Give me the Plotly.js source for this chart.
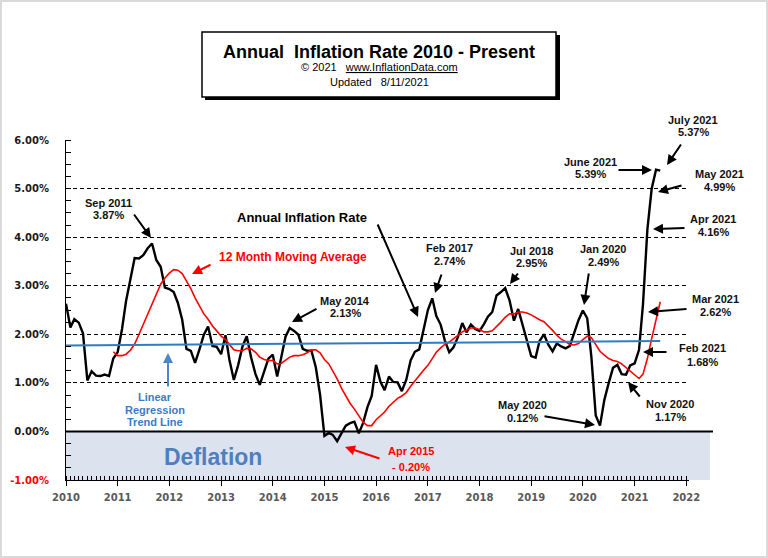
<!DOCTYPE html>
<html><head><meta charset="utf-8">
<script src="https://cdn.plot.ly/plotly-3.0.1.min.js"></script>
<style>
html,body{margin:0;padding:0;background:#fff;}
#wrap{position:relative;width:768px;height:558px;overflow:hidden;}
#chart{width:768px;height:558px;}
#frame{position:absolute;left:0;top:0;width:764px;height:554px;border:2px solid #d9d9d9;pointer-events:none;}
</style>
</head><body>
<div id="wrap"><div id="chart"></div><div id="frame"></div></div>
<script>
// ---------------- DATA ----------------
const rateStartMonth = '2010-01';
const inflationRate = [
  // 2010
  2.63, 2.14, 2.31, 2.24, 2.02, 1.05, 1.24, 1.15, 1.14, 1.17, 1.14, 1.50,
  // 2011
  1.63, 2.11, 2.68, 3.16, 3.57, 3.56, 3.63, 3.77, 3.87, 3.53, 3.39, 2.96,
  // 2012
  2.93, 2.87, 2.65, 2.30, 1.70, 1.66, 1.41, 1.69, 1.99, 2.16, 1.76, 1.74,
  // 2013
  1.59, 1.98, 1.47, 1.06, 1.36, 1.75, 1.96, 1.52, 1.18, 0.96, 1.24, 1.50,
  // 2014
  1.58, 1.13, 1.51, 1.95, 2.13, 2.07, 1.99, 1.70, 1.66, 1.66, 1.32, 0.76,
  // 2015
  -0.09, -0.03, -0.07, -0.20, -0.04, 0.12, 0.17, 0.20, -0.04, 0.17, 0.50, 0.73,
  // 2016
  1.37, 1.02, 0.85, 1.13, 1.02, 1.01, 0.83, 1.06, 1.46, 1.64, 1.69, 2.07,
  // 2017
  2.50, 2.74, 2.38, 2.20, 1.87, 1.63, 1.73, 1.94, 2.23, 2.04, 2.20, 2.11,
  // 2018
  2.07, 2.21, 2.36, 2.46, 2.80, 2.87, 2.95, 2.70, 2.28, 2.52, 2.18, 1.91,
  // 2019
  1.55, 1.52, 1.86, 2.00, 1.79, 1.65, 1.81, 1.75, 1.71, 1.76, 2.05, 2.29,
  // 2020
  2.49, 2.33, 1.54, 0.33, 0.12, 0.65, 0.99, 1.31, 1.37, 1.18, 1.17, 1.36,
  // 2021
  1.40, 1.68, 2.62, 4.16, 4.99, 5.39, 5.37
];

const avgStartMonth = '2010-12';
const movingAverage = [
  1.64,
  1.56, 1.56, 1.59, 1.67, 1.80, 2.00, 2.20, 2.42, 2.65, 2.85, 3.03, 3.16,
  3.26, 3.33, 3.32, 3.25, 3.10, 2.94, 2.75, 2.58, 2.42, 2.31, 2.17, 2.07,
  1.96, 1.89, 1.79, 1.68, 1.66, 1.66, 1.71, 1.70, 1.63, 1.53, 1.48, 1.46,
  1.46, 1.39, 1.40, 1.47, 1.53, 1.56, 1.56, 1.58, 1.62, 1.68, 1.68, 1.62,
  1.48, 1.39, 1.25, 1.08, 0.89, 0.73, 0.58, 0.46, 0.31, 0.19, 0.12, 0.12,
  0.24, 0.33, 0.40, 0.52, 0.60, 0.68, 0.73, 0.80, 0.93, 1.05, 1.15, 1.26,
  1.36, 1.50, 1.63, 1.72, 1.79, 1.84, 1.91, 1.99, 2.05, 2.09, 2.13, 2.13,
  2.10, 2.05, 2.05, 2.07, 2.15, 2.25, 2.35, 2.42, 2.42, 2.46, 2.46, 2.44,
  2.40, 2.34, 2.30, 2.26, 2.18, 2.08, 1.98, 1.90, 1.85, 1.79, 1.78, 1.81,
  1.89, 1.96, 1.93, 1.79, 1.65, 1.57, 1.50, 1.46, 1.44, 1.39, 1.31, 1.24,
  1.15, 1.09, 1.18, 1.50, 1.91, 2.30, 2.67
];

const trendMonths = ['2010-01-01', '2021-07-01'];
const trendValues = [1.77, 1.86];

const yearTicks = [2010, 2011, 2012, 2013, 2014, 2015, 2016, 2017, 2018, 2019, 2020, 2021, 2022];
const yTickVals = [-1, 0, 1, 2, 3, 4, 5, 6];
const yTickText = ['-1.00%', '0.00%', '1.00%', '2.00%', '3.00%', '4.00%', '5.00%', '6.00%'];

const calloutText = [
  ['Sep 2011', '3.87%'],
  ['May 2014', '2.13%'],
  ['Feb 2017', '2.74%'],
  ['Jul 2018', '2.95%'],
  ['Jan 2020', '2.49%'],
  ['May 2020', '0.12%'],
  ['Nov 2020', '1.17%'],
  ['Feb 2021', '1.68%'],
  ['Mar 2021', '2.62%'],
  ['Apr 2021', '4.16%'],
  ['May 2021', '4.99%'],
  ['June 2021', '5.39%'],
  ['July 2021', '5.37%']
];
const deflationCallout = ['Apr 2015', '- 0.20%'];

// ---------------- HELPERS ----------------
function monthSeries(start, n) {
  const [y0, m0] = start.split('-').map(Number);
  const out = [];
  for (let i = 0; i < n; i++) {
    const t = (m0 - 1) + i;
    const y = y0 + Math.floor(t / 12);
    const m = (t % 12) + 1;
    out.push(y + '-' + String(m).padStart(2, '0') + '-01');
  }
  return out;
}
const L = 66, R = 689, T = 140, B = 480;
const W = R - L, H = B - T;
const px = x => (x - L) / W;
const py = y => (B - y) / H;
const FONT = 'Liberation Sans, Arial, sans-serif';

// ---------------- TRACES ----------------
const traces = [
  {
    x: monthSeries(rateStartMonth, inflationRate.length), y: inflationRate,
    type: 'scatter', mode: 'lines',
    line: {color: '#000000', width: 2.4}, name: 'Annual Inflation Rate'
  },
  {
    x: monthSeries(avgStartMonth, movingAverage.length), y: movingAverage,
    type: 'scatter', mode: 'lines',
    line: {color: '#ff0000', width: 1.6}, name: '12 Month Moving Average'
  },
  {
    x: trendMonths, y: trendValues,
    type: 'scatter', mode: 'lines',
    line: {color: '#2f7cc2', width: 2}, name: 'Linear Regression Trend Line'
  }
];

// ---------------- ANNOTATIONS ----------------
const annotations = [];
function txt(x, y, text, size, color, extra) {
  annotations.push(Object.assign({
    xref: 'paper', yref: 'paper', x: px(x), y: py(y), text: text,
    showarrow: false, xanchor: 'center', yanchor: 'middle',
    font: {family: FONT, size: size, color: color}
  }, extra || {}));
}
function arrow(tx, ty, hx, hy, color) {
  annotations.push({
    xref: 'paper', yref: 'paper', x: px(hx), y: py(hy), text: '',
    showarrow: true, ax: tx - hx, ay: ty - hy,
    arrowhead: 2, arrowsize: 1, arrowwidth: 2, arrowcolor: color
  });
}

// title block
txt(379, 52, '<b>Annual\u00a0\u00a0Inflation Rate 2010 - Present</b>', 18, '#000');
txt(379, 67, '©\u00a02021\u00a0\u00a0\u00a0<u>www.InflationData.com</u>', 11, '#000');
txt(379, 82, 'Updated\u00a0\u00a0\u00a08/11/2021', 11, '#000');

// series labels
txt(302, 217, '<b>Annual Inflation Rate</b>', 13, '#000');
arrow(377, 223, 418, 317, '#000');
txt(293, 257, '<b>12 Month Moving Average</b>', 12, '#ff0000');
arrow(212, 264, 192, 274, '#ff0000');
txt(155, 397, '<b>Linear</b>', 11, '#3a7cc2');
txt(155, 409.5, '<b>Regression</b>', 11, '#3a7cc2');
txt(155, 422, '<b>Trend Line</b>', 11, '#3a7cc2');
arrow(168, 388, 168, 353, '#4a86c8');
txt(213, 457, '<b>Deflation</b>', 23, '#4f7fbf');

// callouts: [center x, line1 y, line2 y] and arrow [tail x, tail y, head x, head y]
const calloutPos = [
  [108, 203, 215], [345, 301, 313], [449, 248, 261], [531, 251, 263],
  [603, 249, 262], [522, 405, 418], [670, 404, 417], [702, 348, 362],
  [715, 299, 312], [713, 219, 232], [719, 174, 187], [590, 162, 174],
  [693, 120, 132]
];
const calloutArrows = [
  [133, 213, 151, 238], [318, 308, 292, 322], [442, 273, 435, 293], [519, 272, 510, 284],
  [589, 272, 584, 305], [543, 416, 595, 425], [641, 398, 628, 382], [668, 352, 643, 352],
  [688, 309, 648, 312], [686, 228, 653, 229], [683, 185, 658, 192], [617, 170, 652, 170],
  [682, 143, 667, 165]
];
calloutText.forEach((c, i) => {
  const p = calloutPos[i], a = calloutArrows[i];
  txt(p[0], p[1], '<b>' + c[0] + '</b>', 11, '#111');
  txt(p[0], p[2], '<b>' + c[1] + '</b>', 11, '#111');
  arrow(a[0], a[1], a[2], a[3], '#000');
});
txt(411, 451, '<b>' + deflationCallout[0] + '</b>', 11, '#ff0000');
txt(411, 467, '<b>' + deflationCallout[1] + '</b>', 11, '#ff0000');
arrow(381, 459, 345, 447, '#ff0000');

// ---------------- SHAPES ----------------
const shapes = [
  // deflation band
  {type: 'rect', xref: 'paper', yref: 'y', x0: 0, x1: px(710), y0: -1, y1: 0,
   fillcolor: '#dce3ee', line: {width: 0}, layer: 'below'},
  // zero line
  {type: 'line', xref: 'paper', yref: 'y', x0: 0, x1: px(713), y0: 0, y1: 0,
   line: {color: '#000', width: 2}, layer: 'above'},
  // title box shadow + box
  {type: 'rect', xref: 'paper', yref: 'paper', x0: px(205), x1: px(560), y0: py(100), y1: py(35),
   fillcolor: '#000', line: {width: 0}},
  {type: 'rect', xref: 'paper', yref: 'paper', x0: px(202), x1: px(556), y0: py(97), y1: py(32),
   fillcolor: '#fff', line: {color: '#000', width: 1.5}}
];

// ---------------- LAYOUT ----------------
const layout = {
  width: 768, height: 558,
  margin: {l: L, r: 768 - R, t: T, b: 558 - B, pad: 0},
  paper_bgcolor: '#ffffff', plot_bgcolor: 'rgba(0,0,0,0)',
  showlegend: false,
  font: {family: FONT},
  xaxis: {
    type: 'date',
    range: ['2010-01-01', '2022-01-20'],
    tickvals: yearTicks.map(y => y + '-01-01'),
    ticktext: yearTicks.map(y => '<b>' + y + '</b>'),
    tickfont: {family: 'DejaVu Sans, sans-serif', size: 10, color: '#595959'},
    ticks: 'outside', ticklen: 5, tickcolor: '#000', tickwidth: 1,
    ticklabelstandoff: 3,
    minor: {ticks: 'inside', dtick: 'M1', ticklen: 4, tickcolor: '#000', tickwidth: 1, showgrid: false},
    showgrid: false, zeroline: false,
    showline: true, linecolor: '#000', linewidth: 1
  },
  yaxis: {
    range: [-1, 6],
    tickvals: yTickVals,
    ticktext: yTickText.map((t, i) => yTickVals[i] < 0
      ? '<span style="color:#ff0000">' + t + '</span>' : t),
    tickfont: {family: 'DejaVu Sans, sans-serif', size: 10, color: '#1a1a1a', weight: 'bold'},
    ticks: '', ticklabelstandoff: 14,
    minor: {ticks: 'inside', dtick: 0.25, ticklen: 5, tickcolor: '#000', tickwidth: 1, showgrid: false},
    showgrid: true, gridcolor: '#000', gridwidth: 1, griddash: '4px,3px',
    zeroline: false,
    showline: true, linecolor: '#000', linewidth: 1
  },
  shapes: shapes,
  annotations: annotations
};

Plotly.newPlot('chart', traces, layout, {staticPlot: true, displayModeBar: false});
</script>
</body></html>
